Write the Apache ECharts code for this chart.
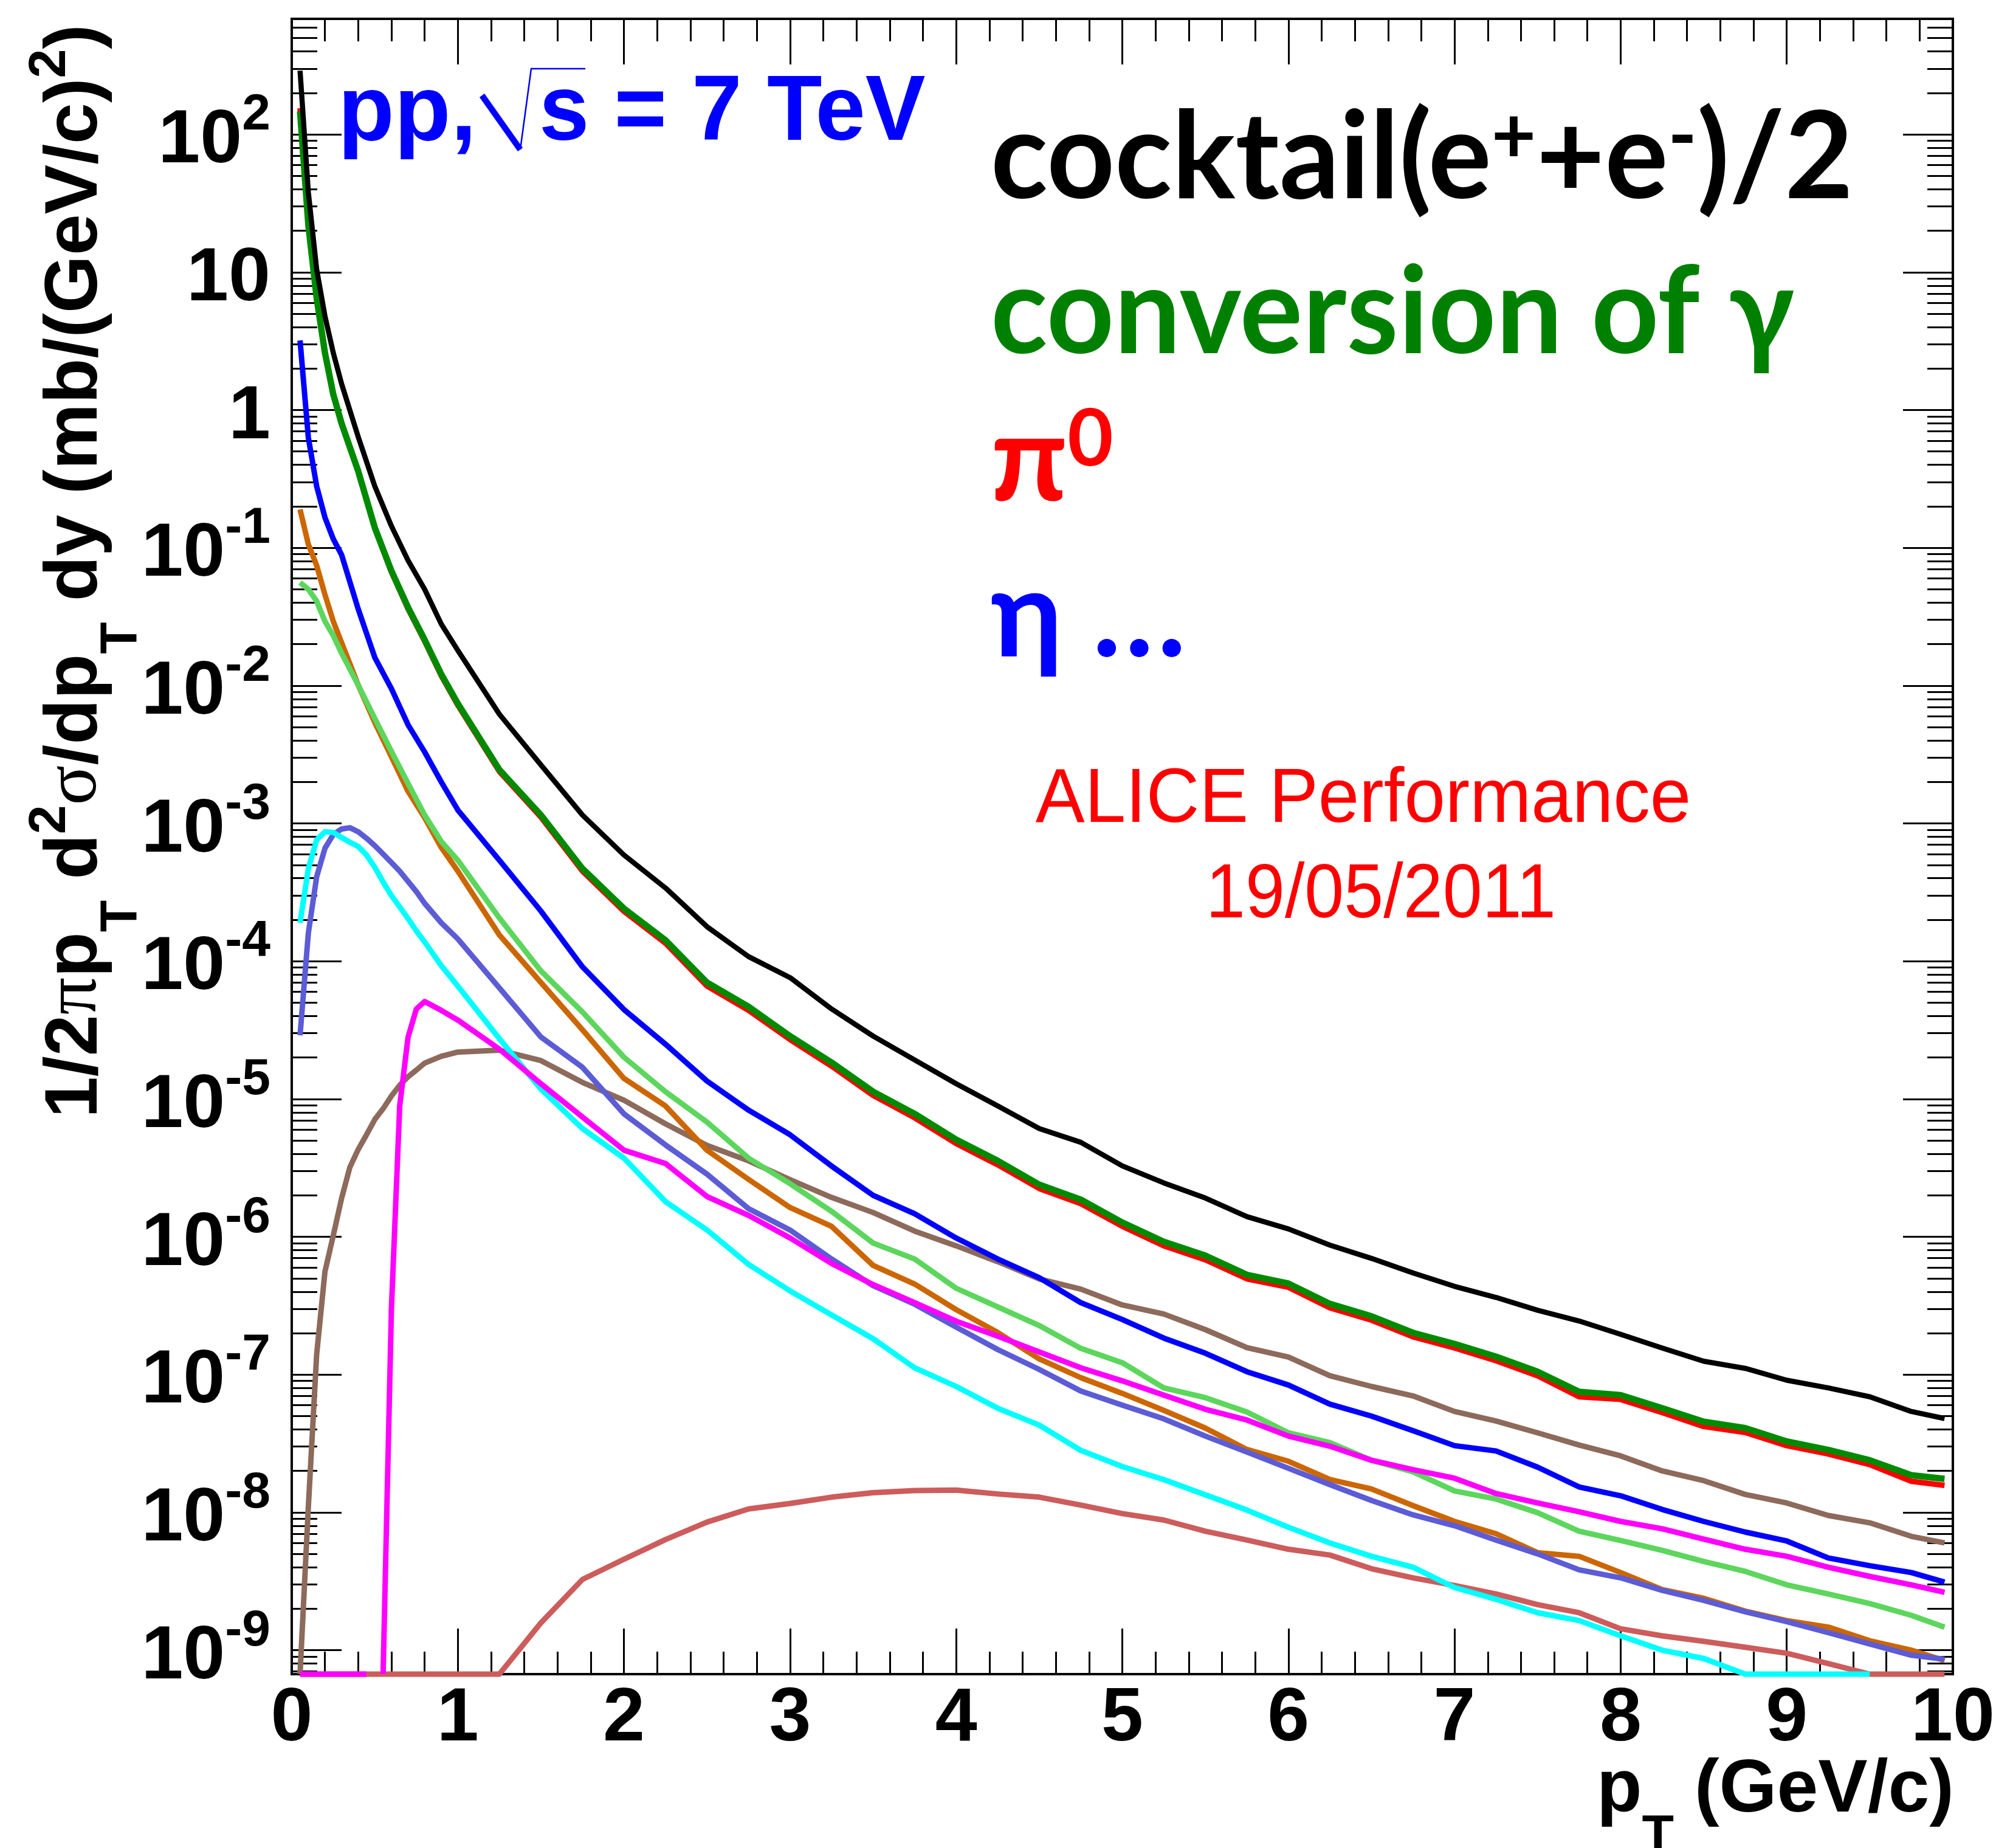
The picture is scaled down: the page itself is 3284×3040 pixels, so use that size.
<!DOCTYPE html>
<html>
<head>
<meta charset="utf-8">
<script src="https://cdn.jsdelivr.net/npm/echarts@6.0.0/dist/echarts.min.js"></script>
<style>
  html, body { margin: 0; padding: 0; background: #ffffff; }
  #chart { width: 3284px; height: 3040px; }
</style>
</head>
<body>
<div id="chart"></div>
<script>
// pT bin centres, GeV/c
const PT = [0.05, 0.1, 0.15, 0.2, 0.25, 0.3, 0.35, 0.4, 0.45, 0.5, 0.55, 0.6, 0.65, 0.7, 0.75, 0.8, 0.9,
  1.0, 1.25, 1.5, 1.75, 2.0, 2.25, 2.5, 2.75, 3.0, 3.25, 3.5, 3.75, 4.0, 4.25, 4.5, 4.75,
  5.0, 5.25, 5.5, 5.75, 6.0, 6.25, 6.5, 6.75, 7.0, 7.25, 7.5, 7.75, 8.0, 8.25, 8.5, 8.75, 9.0, 9.25, 9.5, 9.75, 9.95];

// 1/2pi pT d2sigma/dpT dy in mb/(GeV/c)^2; null = no bin, 0 = empty bin
const COCKTAIL = [290, 38, 10.5, 4.8, 2.6, 1.55, null, 0.64, null, 0.28, null, 0.144, null, 0.081, null, 0.05, 0.028,
  0.018, 0.0062, 0.00266, 0.00115, 5.9e-4, 3.4e-4, 1.78e-4, 1.08e-4, 7.6e-5, 4.5e-5, 2.86e-5, 1.92e-5, 1.29e-5, 8.9e-6, 6.1e-6, 4.85e-6,
  3.27e-6, 2.46e-6, 1.91e-6, 1.40e-6, 1.14e-6, 8.7e-7, 6.97e-7, 5.47e-7, 4.37e-7, 3.63e-7, 2.93e-7, 2.45e-7, 1.96e-7, 1.56e-7, 1.25e-7, 1.11e-7, 9.1e-8, 8.0e-8, 6.9e-8, 5.4e-8, 4.8e-8];

const GAMMA_CONV = [147, 22, 6.5, 2.6, 1.3, 0.8, null, 0.36, null, 0.14, null, 0.068, null, 0.037, null, 0.0215, 0.0121,
  0.0074, 0.00245, 0.00115, 4.7e-4, 2.41e-4, 1.42e-4, 7.0e-5, 4.67e-5, 2.86e-5, 1.84e-5, 1.13e-5, 7.8e-6, 5.07e-6, 3.56e-6, 2.39e-6, 1.86e-6,
  1.27e-6, 9.2e-7, 7.3e-7, 5.3e-7, 4.58e-7, 3.26e-7, 2.65e-7, 2.01e-7, 1.67e-7, 1.35e-7, 1.05e-7, 7.5e-8, 7.1e-8, 5.7e-8, 4.55e-8, 4.09e-8, 3.27e-8, 2.84e-8, 2.39e-8, 1.86e-8, 1.75e-8];

const PI0 = [155, 22, 6.5, 2.6, 1.3, 0.8, null, 0.36, null, 0.14, null, 0.067, null, 0.036, null, 0.021, 0.0118,
  0.0072, 0.00238, 0.00111, 4.5e-4, 2.3e-4, 1.35e-4, 6.6e-5, 4.4e-5, 2.7e-5, 1.73e-5, 1.06e-5, 7.3e-6, 4.75e-6, 3.33e-6, 2.24e-6, 1.74e-6,
  1.19e-6, 8.6e-7, 6.8e-7, 4.95e-7, 4.3e-7, 3.05e-7, 2.48e-7, 1.88e-7, 1.56e-7, 1.26e-7, 9.8e-8, 6.9e-8, 6.6e-8, 5.3e-8, 4.2e-8, 3.8e-8, 3.05e-8, 2.65e-8, 2.22e-8, 1.68e-8, 1.57e-8];

const ETA = [3.2, 0.63, 0.28, 0.166, 0.116, 0.089, null, 0.036, null, 0.016, null, 0.0095, null, 0.0052, null, 0.0033, 0.002,
  0.00125, 5.4e-4, 2.31e-4, 9.1e-5, 4.46e-5, 2.5e-5, 1.35e-5, 8.3e-6, 5.5e-6, 3.26e-6, 2.0e-6, 1.47e-6, 9.8e-7, 6.9e-7, 5.05e-7, 3.33e-7,
  2.51e-7, 1.84e-7, 1.43e-7, 1.05e-7, 8.4e-8, 6.1e-8, 5.0e-8, 3.92e-8, 3.05e-8, 2.79e-8, 2.13e-8, 1.53e-8, 1.32e-8, 1.05e-8, 8.6e-9, 7.2e-9, 6.2e-9, 4.67e-9, 4.1e-9, 3.66e-9, 3.12e-9];

const ORANGE_SRC = [0.19, 0.106, 0.0745, 0.0457, 0.0293, 0.0205, null, 0.0101, null, 0.0054, null, 0.00305, null, 0.00171, null, 0.0011, 6.7e-4,
  4.5e-4, 1.55e-4, 7.0e-5, 3.18e-5, 1.41e-5, 8.9e-6, 4.25e-6, 2.61e-6, 1.63e-6, 1.19e-6, 6.2e-7, 4.54e-7, 2.96e-7, 2.02e-7, 1.3e-7, 9.5e-8,
  7.3e-8, 5.5e-8, 4.09e-8, 2.86e-8, 2.35e-8, 1.73e-8, 1.48e-8, 1.12e-8, 8.6e-9, 7.0e-9, 5.1e-9, 4.8e-9, 3.66e-9, 2.75e-9, 2.38e-9, 1.92e-9, 1.64e-9, 1.47e-9, 1.17e-9, 1.0e-9, 8.4e-10];

const LIGHTGREEN_SRC = [0.056, 0.05, 0.041, 0.0293, 0.0231, 0.0172, null, 0.0101, null, 0.00577, null, 0.00333, null, 0.00195, null, 0.00115, 7.4e-4,
  5.4e-4, 2.06e-4, 8.5e-5, 4.28e-5, 2.01e-5, 1.13e-5, 6.8e-6, 3.72e-6, 2.43e-6, 1.53e-6, 9.0e-7, 6.9e-7, 4.23e-7, 3.1e-7, 2.27e-7, 1.55e-7,
  1.22e-7, 8.0e-8, 6.8e-8, 5.35e-8, 3.78e-8, 3.21e-8, 2.39e-8, 1.97e-8, 1.43e-8, 1.25e-8, 9.95e-9, 7.3e-9, 6.25e-9, 5.3e-9, 4.4e-9, 3.73e-9, 2.98e-9, 2.56e-9, 2.18e-9, 1.79e-9, 1.47e-9];

const CYAN_SRC = [1.9e-4, 4.7e-4, 7.6e-4, 8.7e-4, 8.6e-4, 7.9e-4, 7.3e-4, 6.8e-4, 5.9e-4, 4.8e-4, 3.76e-4, 3.0e-4, 2.48e-4, 2.04e-4, 1.66e-4, 1.38e-4, 9.3e-5,
  6.6e-5, 2.74e-5, 1.18e-5, 6.1e-6, 3.72e-6, 1.8e-6, 1.12e-6, 6.3e-7, 4.05e-7, 2.71e-7, 1.82e-7, 1.12e-7, 8.2e-8, 5.7e-8, 4.3e-8, 2.82e-8,
  2.15e-8, 1.73e-8, 1.34e-8, 1.04e-8, 7.8e-9, 6.0e-9, 4.8e-9, 4.0e-9, 2.85e-9, 2.34e-9, 1.87e-9, 1.64e-9, 1.27e-9, 1.0e-9, 8.7e-10, 0, 0, 0, 0, null, null];

const SLATE_SRC = [2.9e-5, 1.6e-4, 4.1e-4, 6.6e-4, 8.3e-4, 9.1e-4, 9.3e-4, 8.7e-4, 7.8e-4, 6.9e-4, 6.0e-4, 5.2e-4, 4.5e-4, 3.8e-4, 3.2e-4, 2.63e-4, 1.9e-4,
  1.45e-4, 6.4e-5, 2.82e-5, 1.7e-5, 7.8e-6, 4.64e-6, 2.85e-6, 1.6e-6, 1.12e-6, 6.9e-7, 4.42e-7, 3.24e-7, 2.21e-7, 1.52e-7, 1.09e-7, 7.6e-8,
  6.0e-8, 4.77e-8, 3.58e-8, 2.74e-8, 2.09e-8, 1.59e-8, 1.22e-8, 9.6e-9, 8.0e-9, 6.3e-9, 5.0e-9, 3.83e-9, 3.35e-9, 2.72e-9, 2.3e-9, 1.9e-9, 1.61e-9, 1.34e-9, 1.11e-9, 9.2e-10, 8.6e-10];

const MAGENTA_SRC = [0, 0, 0, 0, 0, 0, 0, 0, 0, null, 0, 3e-7, 8.9e-6, 2.8e-5, 4.5e-5, 5.1e-5, 4.4e-5,
  3.74e-5, 2.3e-5, 1.29e-5, 7.4e-6, 4.25e-6, 3.4e-6, 1.96e-6, 1.43e-6, 9.8e-7, 6.4e-7, 4.5e-7, 3.33e-7, 2.44e-7, 1.9e-7, 1.46e-7, 1.12e-7,
  9.0e-8, 7.1e-8, 5.6e-8, 4.68e-8, 3.58e-8, 3.02e-8, 2.39e-8, 2.04e-8, 1.77e-8, 1.37e-8, 1.17e-8, 1.01e-8, 8.6e-9, 7.6e-9, 6.4e-9, 5.4e-9, 4.8e-9, 4.0e-9, 3.43e-9, 2.98e-9, 2.63e-9];

const BROWN_SRC = [0, 1.1e-8, 1.4e-7, 5.6e-7, 1.02e-6, 1.9e-6, 3.2e-6, 4.3e-6, 5.5e-6, 7.1e-6, 8.5e-6, 1.05e-5, 1.26e-5, 1.45e-5, 1.62e-5, 1.82e-5, 2.04e-5,
  2.19e-5, 2.26e-5, 1.9e-5, 1.32e-5, 9.8e-6, 6.6e-6, 4.6e-6, 3.56e-6, 2.6e-6, 1.93e-6, 1.5e-6, 1.1e-6, 8.6e-7, 6.6e-7, 4.95e-7, 4.17e-7,
  3.2e-7, 2.75e-7, 2.12e-7, 1.57e-7, 1.34e-7, 9.8e-8, 8.2e-8, 7.0e-8, 5.4e-8, 4.6e-8, 3.78e-8, 3.08e-8, 2.57e-8, 2.0e-8, 1.7e-8, 1.35e-8, 1.17e-8, 9.5e-9, 8.4e-9, 6.7e-9, 6.0e-9];

const INDIANRED_SRC = [0, 0, 0, 0, 0, 0, 0, 0, 0, 0, 0, 0, 0, 0, 0, 0, 0,
  0, 0, 1.58e-9, 3.26e-9, 4.57e-9, 6.35e-9, 8.5e-9, 1.06e-8, 1.16e-8, 1.29e-8, 1.39e-8, 1.44e-8, 1.45e-8, 1.36e-8, 1.29e-8, 1.13e-8,
  9.8e-9, 8.8e-9, 7.3e-9, 6.3e-9, 5.4e-9, 4.9e-9, 3.9e-9, 3.35e-9, 2.95e-9, 2.56e-9, 2.14e-9, 1.87e-9, 1.43e-9, 1.27e-9, 1.16e-9, 1.05e-9, 9.5e-10, 8.0e-10, 0, 0, 0];

// axis ranges and tick labels
const Y_MIN = 6.7e-10;
const Y_MAX = 690;
const X_TICK_LABELS = ['0', '1', '2', '3', '4', '5', '6', '7', '8', '9', '10'];
const Y_TICK_EXPONENTS = [-9, -8, -7, -6, -5, -4, -3, -2, -1, 0, 1, 2];

const SANS = '"Liberation Sans", Arial, Helvetica, sans-serif';
const SERIF = '"Liberation Serif", "DejaVu Serif", serif';
const LEGEND_FONT = 'Lato, "Open Sans", sans-serif';

const Y_MAJOR = Y_TICK_EXPONENTS.map(e => Math.pow(10, e));
const Y_MINOR = [];
for (let e = -10; e <= 2; e++) {
  for (let m = 2; m <= 9; m++) {
    const v = m * Math.pow(10, e);
    if (v >= Y_MIN && v <= Y_MAX) Y_MINOR.push(v);
  }
}

// empty or below-range bins sit on the lower frame edge, as on a log pad
function toPairs(vals) {
  return PT.map((x, i) => {
    const v = vals[i];
    if (v === null) return [x, '-'];
    return [x, v < Y_MIN ? Y_MIN : v];
  });
}

const CURVES = [
  { name: 'indianred', vals: INDIANRED_SRC, color: '#cd5c5c', width: 9, gaps: false },
  { name: 'brown', vals: BROWN_SRC, color: '#8d6a5b', width: 9, gaps: false },
  { name: 'orange', vals: ORANGE_SRC, color: '#cc6600', width: 9, gaps: false },
  { name: 'lightgreen', vals: LIGHTGREEN_SRC, color: '#5cd65c', width: 9, gaps: false },
  { name: 'slate', vals: SLATE_SRC, color: '#5c5cd6', width: 9, gaps: false },
  { name: 'cyan', vals: CYAN_SRC, color: '#00ffff', width: 9, gaps: false },
  { name: 'magenta', vals: MAGENTA_SRC, color: '#ff00ff', width: 9, gaps: true },
  { name: 'eta', vals: ETA, color: '#0000ff', width: 9, gaps: false },
  { name: 'pi0', vals: PI0, color: '#ff0000', width: 9, gaps: false },
  { name: 'gamma', vals: GAMMA_CONV, color: '#008a00', width: 10.5, gaps: false },
  { name: 'cocktail', vals: COCKTAIL, color: '#000000', width: 8.5, gaps: false }
];

const tickLine = { color: '#000', width: 3 };

const xBase = {
  type: 'value', min: 0, max: 10, interval: 1,
  splitLine: { show: false },
  axisLine: { show: false, onZero: false },
  axisTick: { show: true, inside: true, length: 75, lineStyle: tickLine },
  minorTick: { show: true, splitNumber: 5, length: 37, lineStyle: tickLine },
  minorSplitLine: { show: false }
};

const yBase = {
  type: 'log', logBase: 10, min: Y_MIN, max: Y_MAX,
  splitLine: { show: false },
  minorTick: { show: false },
  axisLine: { show: false, onZero: false }
};

// rich token sets: each token hangs from the line top with an explicit box
// height, which fixes where its baseline sits (sub/superscripts)
function tok(family, weight, size, box) {
  return { fontFamily: family, fontWeight: weight, fontSize: size, height: box, lineHeight: box, verticalAlign: 'top' };
}
const TITLE_RICH = {
  m: tok(SANS, 'bold', 122, 200),
  g: tok(SERIF, 'normal', 122, 200),
  b: tok(SANS, 'bold', 86, 350),
  p: tok(SANS, 'bold', 86, 116)
};
const CAPTION_RICH = {
  m: tok(LEGEND_FONT, 'bold', 200, 200),
  p: tok(LEGEND_FONT, 'bold', 130, 130)
};
const YLABEL_RICH = {
  m: Object.assign(tok(SANS, 'bold', 124, 124), { color: '#000' }),
  s: Object.assign(tok(SANS, 'bold', 84, 38), { color: '#000' })
};

const option = {
  animation: false,
  backgroundColor: '#ffffff',
  grid: {
    left: 480, top: 31, right: 71, bottom: 286,
    containLabel: false, outerBoundsMode: 'none',
    show: true, borderColor: '#000', borderWidth: 4, backgroundColor: 'transparent'
  },
  xAxis: [
    Object.assign({}, xBase, {
      position: 'bottom',
      axisLabel: {
        show: true, margin: 13, color: '#000', fontFamily: SANS, fontWeight: 'bold',
        fontSize: 124, lineHeight: 124, showMinLabel: true, showMaxLabel: true,
        formatter: v => X_TICK_LABELS[Math.round(v)]
      }
    }),
    Object.assign({}, xBase, { position: 'top', axisLabel: { show: false } })
  ],
  yAxis: [
    Object.assign({}, yBase, {
      position: 'left',
      axisTick: { show: true, inside: true, length: 82, customValues: Y_MAJOR, lineStyle: tickLine },
      axisLabel: {
        show: true, customValues: Y_MAJOR, margin: 35, padding: [24, 0, 0, 0],
        formatter: function (v) {
          const e = Math.round(Math.log10(v));
          if (e === 0) return '{m|1}';
          if (e === 1) return '{m|10}';
          return '{m|10}{s|' + e + '}';
        },
        rich: YLABEL_RICH
      }
    }),
    Object.assign({}, yBase, {
      position: 'left',
      axisTick: { show: true, inside: true, length: 42, customValues: Y_MINOR, lineStyle: tickLine },
      axisLabel: { show: false }
    }),
    Object.assign({}, yBase, {
      position: 'right',
      axisTick: { show: true, inside: true, length: 82, customValues: Y_MAJOR, lineStyle: tickLine },
      axisLabel: { show: false }
    }),
    Object.assign({}, yBase, {
      position: 'right',
      axisTick: { show: true, inside: true, length: 42, customValues: Y_MINOR, lineStyle: tickLine },
      axisLabel: { show: false }
    })
  ],
  series: CURVES.map(c => ({
    name: c.name,
    type: 'line',
    xAxisIndex: 0,
    yAxisIndex: 0,
    data: toPairs(c.vals),
    showSymbol: false,
    symbol: 'none',
    connectNulls: !c.gaps,
    clip: false,
    silent: true,
    emphasis: { disabled: true },
    lineStyle: { color: c.color, width: c.width, join: 'round' },
    itemStyle: { color: c.color }
  })),
  graphic: [
    // y-axis title, reads bottom to top
    {
      type: 'text', x: 25, y: 40, rotation: Math.PI / 2, silent: true,
      style: {
        text: '{m|1/2}{g|π}{m|p}{b|T}{m| d}{p|2}{g|σ}{m|/dp}{b|T}{m| dy (mb/(GeV/c)}{p|2}{m|)}',
        align: 'right', verticalAlign: 'top', fill: '#000', rich: TITLE_RICH
      }
    },
    // x-axis title
    {
      type: 'text', x: 3215, y: 2846, silent: true,
      style: {
        text: '{m|p}{b|T}{m| (GeV/c)}',
        align: 'right', verticalAlign: 'top', fill: '#000', rich: TITLE_RICH
      }
    },
    // collision system
    {
      type: 'text', x: 556, y: 188, silent: true,
      style: { text: 'pp,', fontFamily: SANS, fontWeight: 'bold', fontSize: 152, fill: '#0000ff',
        align: 'left', verticalAlign: 'middle' }
    },
    {
      type: 'polyline', silent: true,
      shape: { points: [[793, 157], [856, 246]] },
      style: { stroke: '#0000ff', lineWidth: 10, fill: null }
    },
    {
      type: 'polyline', silent: true,
      shape: { points: [[856, 246], [874, 113], [963, 113]] },
      style: { stroke: '#0000ff', lineWidth: 2.5, fill: null }
    },
    {
      type: 'text', x: 887, y: 188, scaleX: 0.975, silent: true,
      style: { text: 's = 7 TeV', fontFamily: SANS, fontWeight: 'bold', fontSize: 152, fill: '#0000ff',
        align: 'left', verticalAlign: 'middle' }
    },
    // captions
    {
      type: 'text', x: 1630, y: 161, scaleX: 0.975, silent: true,
      style: { text: '{m|cocktail(e}{p|+}{m|+e}{p|-}{m|)/2}', fill: '#000000',
        align: 'left', verticalAlign: 'top', rich: CAPTION_RICH }
    },
    {
      type: 'text', x: 1630, y: 516, scaleX: 0.97, silent: true,
      style: { text: 'conversion of γ', fontFamily: LEGEND_FONT, fontWeight: 'bold', fontSize: 200, fill: '#008000',
        align: 'left', verticalAlign: 'middle' }
    },
    {
      type: 'text', x: 1630, y: 659, silent: true,
      style: { text: '{m|π}{p|0}', fill: '#ff0000',
        align: 'left', verticalAlign: 'top', rich: CAPTION_RICH }
    },
    {
      type: 'text', x: 1630, y: 1015, silent: true,
      style: { text: 'η …', fontFamily: LEGEND_FONT, fontWeight: 'bold', fontSize: 200, fill: '#0000ff',
        align: 'left', verticalAlign: 'middle' }
    },
    // performance label
    {
      type: 'text', x: 2243, y: 1317, scaleX: 0.955, silent: true,
      style: { text: 'ALICE Performance', fontFamily: SANS, fontWeight: 'normal', fontSize: 127, fill: '#ff0000',
        align: 'center', verticalAlign: 'middle' }
    },
    {
      type: 'text', x: 2272, y: 1474, scaleX: 0.92, silent: true,
      style: { text: '19/05/2011', fontFamily: SANS, fontWeight: 'normal', fontSize: 127, fill: '#ff0000',
        align: 'center', verticalAlign: 'middle' }
    }
  ]
};

const chart = echarts.init(document.getElementById('chart'), null, { renderer: 'canvas', width: 3284, height: 3040 });
chart.setOption(option);
</script>
</body>
</html>
